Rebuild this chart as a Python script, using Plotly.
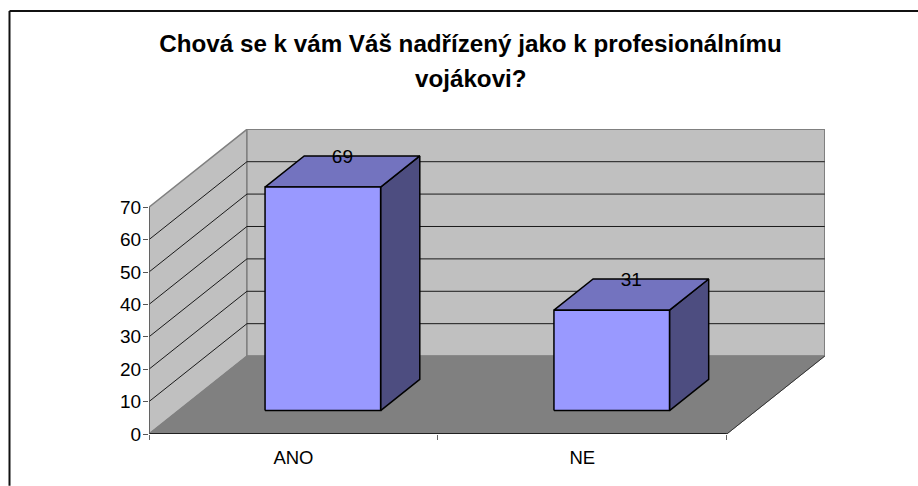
import plotly.graph_objects as go

# Data
categories = ["ANO", "NE"]
values = [69, 31]
y_ticks = [0, 10, 20, 30, 40, 50, 60, 70]
title_lines = ["Chová se k vám Váš nadřízený jako k profesionálnímu", "vojákovi?"]

# Oblique 3D projection, in axis units
DEPTH_X = 0.339      # category units for the full floor depth
DEPTH_Y = 24.05      # value units for the full floor depth
BAR_WIDTH = 0.4
BAR_GAP = 0.3        # both along the category axis and in depth
LABEL_RISE = 1.3     # value units between the top face centre and its label
Y_MAX = y_ticks[-1]
N = len(categories)

WALL = "#C0C0C0"
FLOOR = "#808080"
EDGE = "#808080"
FRONT = "#9999FF"
TOP = "#7373BF"
SIDE = "#4D4D80"
BLACK = "#000000"
FONT = "Liberation Sans, Arial, sans-serif"


def proj(c, v, d):
    return c + d * DEPTH_X, v + d * DEPTH_Y


def poly(points, fill=None, line=None, width=1):
    xy = [proj(*p) for p in points]
    xs = [p[0] for p in xy]
    ys = [p[1] for p in xy]
    if fill:
        xs.append(xs[0])
        ys.append(ys[0])
    return go.Scatter(
        x=xs, y=ys, mode="lines", fill="toself" if fill else None,
        fillcolor=fill, line=dict(color=line or fill, width=width),
        hoverinfo="skip", showlegend=False, cliponaxis=False,
    )


fig = go.Figure()

# walls and floor
fig.add_trace(poly([(0, 0, 0), (0, Y_MAX, 0), (0, Y_MAX, 1), (0, 0, 1)], WALL, EDGE, 1.5))
fig.add_trace(poly([(0, 0, 1), (0, Y_MAX, 1), (N, Y_MAX, 1), (N, 0, 1)], WALL, EDGE, 1.5))
fig.add_trace(poly([(0, 0, 0), (N, 0, 0), (N, 0, 1), (0, 0, 1)], FLOOR, FLOOR, 1))

# gridlines
for t in y_ticks[1:-1]:
    fig.add_trace(poly([(0, t, 0), (0, t, 1), (N, t, 1)], None, "#1a1a1a", 1))

# floor edges and axis lines
fig.add_trace(poly([(N, 0, 0), (N, 0, 1)], None, "#333333", 1))
fig.add_trace(poly([(0, 0, 0), (N, 0, 0)], None, BLACK, 1.5))
fig.add_trace(poly([(0, 0, 0), (0, Y_MAX, 0)], None, "#555555", 1.5))

# bars
for i, v in enumerate(values):
    c0, c1 = i + BAR_GAP, i + BAR_GAP + BAR_WIDTH
    d0, d1 = BAR_GAP, BAR_GAP + BAR_WIDTH
    fig.add_trace(poly([(c1, 0, d0), (c1, 0, d1), (c1, v, d1), (c1, v, d0)], SIDE, BLACK, 1.5))
    fig.add_trace(poly([(c0, v, d0), (c1, v, d0), (c1, v, d1), (c0, v, d1)], TOP, BLACK, 1.5))
    fig.add_trace(poly([(c0, 0, d0), (c1, 0, d0), (c1, v, d0), (c0, v, d0)], FRONT, BLACK, 1.5))

# value labels
lx, ly = zip(*[proj(i + 0.5, v + LABEL_RISE, 0.5) for i, v in enumerate(values)])
fig.add_trace(go.Scatter(
    x=list(lx), y=list(ly), mode="text", text=[str(v) for v in values],
    textposition="top center", textfont=dict(family=FONT, size=19, color="#000000"),
    hoverinfo="skip", showlegend=False, cliponaxis=False,
))

L, R, T, B = 149, 93, 129, 51.7
X_RANGE_MAX = (918 - L - R) / 288.9
Y_RANGE_MAX = (486 - T - B) / 3.243
plot_w = 918 - L - R
plot_h = 486 - T - B
title_x = (470.5 - L) / plot_w

fig.update_layout(
    width=918, height=486,
    margin=dict(l=L, r=R, t=T, b=B, pad=0, autoexpand=False),
    paper_bgcolor="white", plot_bgcolor="white",
    showlegend=False,
    title=dict(
        text=f"<b>{title_lines[0]}</b>", xref="paper", x=title_x, xanchor="center",
        yref="container", y=1 - 44 / 486, yanchor="middle",
        font=dict(family=FONT, size=24.2, color="#000000"),
    ),
    annotations=[dict(
        text=f"<b>{title_lines[1]}</b>", xref="paper", x=title_x, xanchor="center",
        yref="paper", y=1 + (129 - 78.5) / plot_h, yanchor="middle", showarrow=False,
        font=dict(family=FONT, size=24.2, color="#000000"),
    )],
    xaxis=dict(
        range=[0, X_RANGE_MAX], showgrid=False, zeroline=False, showline=False,
        tickmode="array", tickvals=[i + 0.5 for i in range(N)], ticktext=categories,
        ticks="", ticklabelstandoff=10,
        tickfont=dict(family=FONT, size=18.5, color="#000000"),
        minor=dict(tickmode="array", tickvals=list(range(N + 1)), ticks="outside",
                   ticklen=5, tickcolor="#666666", tickwidth=1, showgrid=False),
    ),
    yaxis=dict(
        range=[0, Y_RANGE_MAX], showgrid=False, zeroline=False, showline=False,
        tickmode="array", tickvals=y_ticks, ticktext=[str(t) for t in y_ticks],
        ticks="outside", ticklen=5, tickcolor="#555555", tickwidth=1,
        ticklabelstandoff=-2,
        tickfont=dict(family=FONT, size=19, color="#000000"),
    ),
    shapes=[
        dict(type="line", xref="paper", yref="paper", x0=(9.5 - L) / plot_w, x1=(918 - L) / plot_w,
             y0=1 + (T - 11) / plot_h, y1=1 + (T - 11) / plot_h, line=dict(color="#111111", width=2)),
        dict(type="line", xref="paper", yref="paper", x0=(9.5 - L) / plot_w, x1=(9.5 - L) / plot_w,
             y0=1 + (T - 11) / plot_h, y1=-B / plot_h, line=dict(color="#111111", width=2)),
    ],
)

fig.write_html("out.html", post_script="document.body.style.margin='0';document.documentElement.style.overflow='hidden';",
               config={"displayModeBar": False})
